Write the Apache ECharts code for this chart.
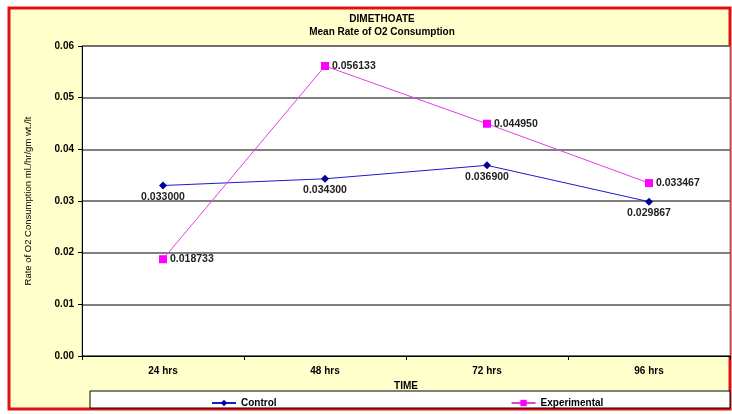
<!DOCTYPE html>
<html>
<head>
<meta charset="utf-8">
<script src="https://cdn.jsdelivr.net/npm/echarts@6/dist/echarts.min.js"></script>
<style>
  html, body { margin: 0; padding: 0; background: #fff; }
  #chart { width: 732px; height: 414px; }
</style>
</head>
<body>
<div id="chart"></div>
<script>
var categories = ['24 hrs', '48 hrs', '72 hrs', '96 hrs'];
var control = [0.033000, 0.034300, 0.036900, 0.029867];
var experimental = [0.018733, 0.056133, 0.044950, 0.033467];
var yTicks = [0, 0.01, 0.02, 0.03, 0.04, 0.05, 0.06];

var myChart = echarts.init(document.getElementById('chart'));
var font = 'Arial, "Liberation Sans", sans-serif';
var option = {
  backgroundColor: '#fff',
  animation: false,
  title: {
    text: 'DIMETHOATE',
    subtext: 'Mean Rate of O2 Consumption',
    left: 377,
    top: 9,
    textAlign: 'center',
    itemGap: 3,
    textStyle: { fontFamily: font, fontSize: 10, fontWeight: 'bold', color: '#000' },
    subtextStyle: { fontFamily: font, fontSize: 10, fontWeight: 'bold', color: '#000' }
  },
  graphic: [
    {
      type: 'rect', z: -10, silent: true,
      shape: { x: 9, y: 8, width: 721, height: 401 },
      style: { fill: '#ffffcc', stroke: '#e31010', lineWidth: 3 }
    },
    {
      type: 'rect', z: -5, silent: true,
      shape: { x: 90, y: 391, width: 640, height: 17 },
      style: { fill: '#fff', stroke: '#000', lineWidth: 1 }
    }
  ],
  grid: {
    left: 82, right: 2, top: 46, bottom: 58,
    show: true, backgroundColor: '#fff', borderColor: '#888', borderWidth: 1
  },
  legend: {
    left: 206, top: 393,
    itemWidth: 24, itemHeight: 8, itemGap: 234,
    textStyle: { fontFamily: font, fontSize: 10, fontWeight: 'bold', color: '#000' },
    data: ['Control', 'Experimental']
  },
  xAxis: {
    type: 'category',
    data: categories,
    name: 'TIME',
    nameLocation: 'middle',
    nameGap: 25,
    nameTextStyle: { fontFamily: font, fontSize: 10, fontWeight: 'bold', color: '#000' },
    axisLine: { lineStyle: { color: '#000' } },
    axisTick: { show: true, length: 4, lineStyle: { color: '#000' } },
    axisLabel: { fontFamily: font, fontSize: 10, fontWeight: 'bold', color: '#000', margin: 10 }
  },
  yAxis: {
    type: 'value',
    min: yTicks[0],
    max: yTicks[yTicks.length - 1],
    interval: 0.01,
    name: 'Rate of O2 Consumption ml./hr/gm wt./lt',
    nameLocation: 'middle',
    nameGap: 49,
    nameTextStyle: { fontFamily: font, fontSize: 9.5, color: '#000' },
    axisLine: { show: true, lineStyle: { color: '#000' } },
    axisTick: { show: true, length: 4, inside: false, lineStyle: { color: '#000' } },
    axisLabel: {
      fontFamily: font, fontSize: 10, fontWeight: 'bold', color: '#000', margin: 8,
      formatter: function (v) { return v.toFixed(2); }
    },
    splitLine: { show: true, lineStyle: { color: '#555', width: 1.5 } }
  },
  series: [
    {
      name: 'Control',
      type: 'line',
      data: control,
      color: '#000099',
      symbol: 'diamond',
      symbolSize: 8,
      lineStyle: { width: 1, color: '#1a1acc' },
      itemStyle: { color: '#000099' },
      label: {
        show: true, position: 'bottom', distance: 2,
        fontFamily: font, fontSize: 10.5, fontWeight: 'bold', color: '#222',
        formatter: function (p) { return p.value.toFixed(6); }
      }
    },
    {
      name: 'Experimental',
      type: 'line',
      data: experimental,
      color: '#ff00ff',
      symbol: 'rect',
      symbolSize: 8,
      lineStyle: { width: 1, color: '#e040e0' },
      itemStyle: { color: '#ff00ff' },
      label: {
        show: true, position: 'right', distance: 3,
        fontFamily: font, fontSize: 10.5, fontWeight: 'bold', color: '#222',
        formatter: function (p) { return p.value.toFixed(6); }
      }
    }
  ]
};
myChart.setOption(option);
</script>
</body>
</html>
